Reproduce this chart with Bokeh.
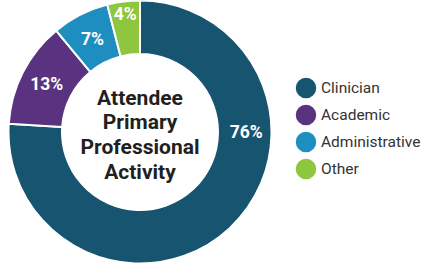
import math
from bokeh.plotting import figure
from bokeh.models import Range1d, ColumnDataSource
from bokeh.core.properties import value
from bokeh.embed import file_html
from bokeh.resources import INLINE

# ---- data ----
categories = ["Clinician", "Academic", "Administrative", "Other"]
percents = [76, 13, 7, 4]
colors = ["#17546f", "#5a3380", "#1e8dc0", "#8fc63f"]
center_title = ["Attendee", "Primary", "Professional", "Activity"]

# ---- layout ----
W, H = 427, 263
cx_px, cy_px = 139.5, 131.5     # donut centre inside the frame (px)
r_out, r_in = 131.5, 78

p = figure(width=W, height=H, output_backend="svg", toolbar_location=None,
           x_range=Range1d(-cx_px, W - cx_px), y_range=Range1d(-(H - cy_px), cy_px),
           min_border=0, outline_line_color=None, background_fill_color="white")
p.axis.visible = False
p.grid.visible = False

total = sum(percents)
starts, ends, mids = [], [], []
acc = 0.0
for v in percents:
    # clockwise from 12 o'clock
    a0 = math.pi / 2 - 2 * math.pi * acc / total
    acc += v
    a1 = math.pi / 2 - 2 * math.pi * acc / total
    starts.append(a1)
    ends.append(a0)
    mids.append((a0 + a1) / 2)

src = ColumnDataSource(dict(start=starts, end=ends, color=colors))
p.annular_wedge(x=0, y=0, inner_radius=r_in, outer_radius=r_out,
                start_angle="start", end_angle="end", fill_color="color",
                line_color="white", line_width=2, source=src)

# percentage labels
lx, ly, lt = [], [], []
for i, v in enumerate(percents):
    ang = mids[i]
    r = (r_in + r_out) / 2
    if v == max(percents):
        ang = 0.0
        r += 1.5
    elif v < 5:
        r = r_out - 13
    lx.append(r * math.cos(ang))
    ly.append(r * math.sin(ang))
    lt.append(f"{v}%")
p.text(x=lx, y=ly, text=lt, text_color="white", text_font=value("Roboto"),
       text_font_style="bold", text_font_size="17.5px",
       text_align="center", text_baseline="middle")

# centre title
n = len(center_title)
line_h = 24.8
ty = [(-(i - (n - 1) / 2) * line_h) - 2.8 for i in range(n)]
p.text(x=[0] * n, y=ty, text=center_title, text_color="#231f20",
       text_font=value("Roboto"), text_font_style="bold", text_font_size="21px",
       text_align="center", text_baseline="middle")

# legend
leg_x = 166
leg_y0 = 44
leg_dy = 27
gy = [leg_y0 - i * leg_dy for i in range(len(categories))]
p.scatter(x=[leg_x] * len(categories), y=gy, size=20.5, marker="circle",
          fill_color=colors, line_color=None)
p.text(x=[leg_x + 15] * len(categories), y=gy, text=categories,
       text_color="#333333", text_font=value("Roboto"), text_font_size="15.5px",
       text_align="left", text_baseline="middle")

open("out.html", "w").write(file_html(p, INLINE))
